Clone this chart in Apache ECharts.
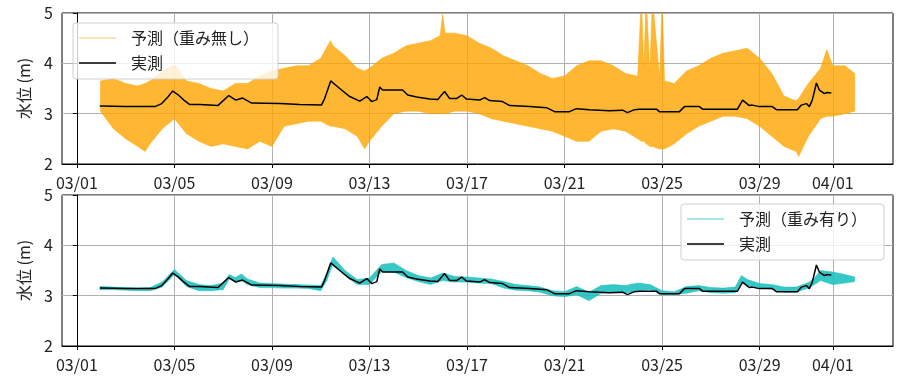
<!DOCTYPE html>
<html><head><meta charset="utf-8">
<script src="https://cdn.jsdelivr.net/npm/echarts@6/dist/echarts.min.js"></script>
<style>html,body{margin:0;padding:0;background:#fff}#c{width:899px;height:378px}</style>
</head><body><div id="c"></div>
<script>
// x values are days since 03/01 00:00
const tickDays = [0, 4, 8, 12, 16, 20, 24, 28, 31];
const tickLabels = ['03/01', '03/05', '03/09', '03/13', '03/17', '03/21', '03/25', '03/29', '04/01'];
const yTicks = [2, 3, 4, 5];

const actualDays = [0.94,2.0,3.2,3.48,3.73,3.93,4.14,4.39,4.63,5.04,5.78,5.98,6.23,6.52,6.8,7.17,8.32,9.14,10.03,10.16,10.41,10.78,11.19,11.6,11.89,12.09,12.3,12.42,12.54,13.36,13.57,13.93,14.47,14.8,15.08,15.29,15.57,15.78,15.98,16.52,16.72,16.93,17.46,17.75,18.57,19.26,19.59,20.2,20.49,21.02,21.84,22.38,22.58,22.87,23.07,23.77,23.89,24.71,24.92,25.53,25.66,27.09,27.3,27.58,27.7,27.99,28.52,28.69,29.55,29.71,29.92,30.04,30.16,30.33,30.45,30.66,30.78,30.94];
const actualLevel = [3.15,3.14,3.14,3.2,3.33,3.45,3.38,3.27,3.18,3.18,3.16,3.25,3.36,3.27,3.31,3.21,3.2,3.18,3.17,3.3,3.65,3.5,3.34,3.25,3.34,3.24,3.28,3.53,3.47,3.47,3.37,3.33,3.29,3.28,3.44,3.3,3.3,3.37,3.29,3.27,3.32,3.26,3.24,3.16,3.14,3.12,3.04,3.04,3.1,3.08,3.06,3.07,3.02,3.08,3.09,3.09,3.04,3.04,3.14,3.14,3.09,3.09,3.27,3.16,3.17,3.14,3.14,3.08,3.08,3.17,3.2,3.14,3.27,3.61,3.47,3.4,3.42,3.41];

// 予測（重み無し） envelope of the forecast traces
const predNwDays = [0.97,1.5,2.0,2.5,2.8,3.0,3.5,4.0,4.5,5.0,5.5,6.0,6.5,7.0,7.5,8.0,8.5,9.0,9.5,10.0,10.4,10.5,11.0,11.5,11.8,12.0,12.5,13.0,13.5,14.0,14.5,14.9,15.0,15.1,15.5,16.0,16.5,17.0,17.5,18.0,18.5,19.0,19.5,20.0,20.5,21.0,21.5,22.0,22.5,23.0,23.15,23.25,23.35,23.5,23.6,23.9,24.0,24.1,24.5,25.0,25.5,26.0,26.5,27.0,27.5,28.0,28.5,29.0,29.5,29.6,30.0,30.5,30.75,31.0,31.5,31.9];
const predNwHigh = [3.65,3.7,3.6,3.55,3.6,3.65,3.85,3.97,3.65,3.6,3.5,3.45,3.6,3.6,3.75,3.85,3.9,3.95,3.95,4.1,4.45,4.35,4.15,3.9,3.85,3.9,4.1,4.2,4.35,4.4,4.45,4.55,4.97,4.6,4.6,4.55,4.4,4.3,4.15,4.05,3.95,3.8,3.7,3.75,3.95,4.05,4.05,3.95,3.8,3.75,5.3,3.9,5.3,3.8,5.3,3.7,5.3,3.65,3.6,3.85,3.95,4.1,4.2,4.25,4.3,4.1,3.8,3.35,3.25,3.3,3.6,3.9,4.27,3.95,3.95,3.8];
const predNwLow = [3.05,2.7,2.5,2.35,2.25,2.4,2.7,2.9,2.6,2.45,2.35,2.4,2.35,2.3,2.45,2.35,2.75,2.8,2.85,2.85,2.75,2.75,2.7,2.55,2.3,2.45,2.75,3.0,3.05,3.05,3.0,3.0,3.0,3.0,3.05,3.05,3.0,2.9,2.85,2.8,2.75,2.7,2.65,2.55,2.45,2.45,2.65,2.7,2.65,2.5,2.45,2.45,2.4,2.35,2.35,2.3,2.3,2.3,2.4,2.6,2.75,2.85,2.95,2.95,2.9,2.75,2.55,2.35,2.25,2.15,2.55,2.9,2.95,2.95,3.0,3.05];

// 予測（重み有り） envelope of the forecast traces
const predWDays = [0.95,1.5,2.0,2.5,3.0,3.5,4.0,4.5,5.0,5.5,6.0,6.25,6.5,6.75,7.0,7.5,8.0,8.5,9.0,9.5,10.0,10.25,10.5,11.0,11.5,12.0,12.5,13.0,13.5,14.0,14.5,15.0,15.5,16.0,16.5,17.0,17.5,18.0,18.5,19.0,19.5,20.0,20.5,21.0,21.5,22.0,22.5,23.0,23.5,24.0,24.5,25.0,25.5,26.0,26.5,27.0,27.25,27.5,28.0,28.5,29.0,29.5,30.0,30.25,30.5,31.0,31.5,31.9];
const predWHigh = [3.18,3.17,3.16,3.15,3.16,3.27,3.52,3.3,3.22,3.2,3.25,3.42,3.36,3.43,3.33,3.25,3.24,3.23,3.22,3.21,3.2,3.45,3.77,3.5,3.32,3.35,3.62,3.65,3.5,3.4,3.35,3.45,3.38,3.37,3.35,3.33,3.28,3.22,3.2,3.17,3.1,3.08,3.18,3.07,3.2,3.22,3.2,3.25,3.22,3.1,3.08,3.18,3.2,3.16,3.15,3.17,3.4,3.32,3.24,3.22,3.17,3.17,3.26,3.35,3.5,3.47,3.42,3.37];
const predWLow = [3.12,3.12,3.11,3.1,3.1,3.17,3.42,3.18,3.1,3.1,3.12,3.33,3.27,3.3,3.22,3.16,3.16,3.15,3.15,3.14,3.1,3.3,3.63,3.4,3.22,3.22,3.48,3.47,3.36,3.28,3.22,3.3,3.27,3.27,3.25,3.24,3.15,3.11,3.1,3.07,3.0,2.98,3.02,2.9,3.05,3.07,3.05,3.1,3.12,3.02,3.02,3.05,3.1,3.06,3.05,3.06,3.27,3.2,3.15,3.13,3.07,3.07,3.15,3.22,3.3,3.22,3.25,3.28];

const FONT = '"Noto Sans CJK JP", "Noto Sans", sans-serif';
const TXT = '#222';
const ORANGE = '#FFA500';
const CYAN = '#1ABFBF';

function pairs(xs, ys) { return xs.map((x, i) => [x, ys[i]]); }
function labelFor(v) {
  const i = tickDays.findIndex(t => Math.abs(t - v) < 1e-6);
  return i >= 0 ? tickLabels[i] : '';
}

const gridsPx = [{ top: 13, height: 151 }, { top: 195, height: 151 }];

function xAxis(i) {
  return {
    type: 'value', gridIndex: i, min: -0.61, max: 33.47,
    axisLine: { show: true, onZero: false, lineStyle: { color: '#000', width: 1 } },
    axisTick: { show: true, customValues: tickDays, length: 4, lineStyle: { color: '#000' } },
    axisLabel: { customValues: tickDays, formatter: labelFor, fontSize: 16, color: TXT, fontFamily: FONT, margin: 11 },
    splitLine: { show: true, lineStyle: { color: '#b0b0b0', width: 1 } }
  };
}
function yAxis(i) {
  return {
    type: 'value', gridIndex: i, min: 2, max: 5, interval: 1,
    name: '水位 (m)', nameLocation: 'middle', nameGap: 30, nameRotate: 90,
    nameTextStyle: { fontSize: 16, color: TXT, fontFamily: FONT },
    axisLine: { show: true, lineStyle: { color: '#000', width: 1 } },
    axisTick: { show: true, length: 4, lineStyle: { color: '#000' } },
    axisLabel: { fontSize: 16, color: TXT, fontFamily: FONT, margin: 9 },
    splitLine: { show: true, lineStyle: { color: '#b0b0b0', width: 1 } }
  };
}
function band(i, name, days, hi, lo, color, op) {
  return {
    type: 'custom', name: name, xAxisIndex: i, yAxisIndex: i, silent: true, z: 2,
    data: [[days[0], lo[0]]],
    itemStyle: { color: color },
    renderItem: function (params, api) {
      const pts = [];
      for (let k = 0; k < days.length; k++) pts.push(api.coord([days[k], hi[k]]));
      for (let k = days.length - 1; k >= 0; k--) pts.push(api.coord([days[k], lo[k]]));
      const cs = params.coordSys;
      return {
        type: 'group',
        clipPath: { type: 'rect', shape: { x: cs.x, y: cs.y, width: cs.width, height: cs.height } },
        children: [{ type: 'polygon', shape: { points: pts },
          style: { fill: color, opacity: op, stroke: color, lineWidth: 0.6 } }]
      };
    }
  };
}
function actual(i) {
  return { type: 'line', name: '実測', xAxisIndex: i, yAxisIndex: i, symbol: 'none', showSymbol: false,
    data: pairs(actualDays, actualLevel), lineStyle: { color: '#000', width: 1.5 }, itemStyle: { color: '#000' }, z: 5 };
}
const legendCommon = {
  orient: 'vertical', itemWidth: 37, itemHeight: 1.6, itemGap: 9, symbolKeepAspect: false,
  backgroundColor: 'rgba(255,255,255,0.8)', borderColor: '#d0d0d0', borderWidth: 1, borderRadius: 3,
  textStyle: { fontSize: 16, color: TXT, fontFamily: FONT, padding: [0, 0, 0, 10] },
  selectedMode: false
};

const option = {
  animation: false,
  backgroundColor: '#fff',
  grid: gridsPx.map(g => ({ left: 62, right: 6, top: g.top, height: g.height, show: true, borderColor: '#000', borderWidth: 1, backgroundColor: 'transparent' })),
  xAxis: [xAxis(0), xAxis(1)],
  yAxis: [yAxis(0), yAxis(1)],
  legend: [
    Object.assign({}, legendCommon, { left: 73, top: 23, padding: [7, 19, 8, 6],
      data: [
        { name: '予測（重み無し）', icon: 'rect', itemStyle: { color: 'rgba(255,165,0,0.4)', opacity: 1 } },
        { name: '実測', icon: 'rect', itemStyle: { color: '#000', opacity: 1 } }
      ] }),
    Object.assign({}, legendCommon, { right: 15, top: 204, padding: [7, 17, 8, 6],
      data: [
        { name: '予測（重み有り）', icon: 'rect', itemStyle: { color: 'rgba(26,191,191,0.5)', opacity: 1 } },
        { name: '実測', icon: 'rect', itemStyle: { color: '#000', opacity: 1 } }
      ] })
  ],
  series: [
    band(0, '予測（重み無し）', predNwDays, predNwHigh, predNwLow, ORANGE, 0.8),
    actual(0),
    band(1, '予測（重み有り）', predWDays, predWHigh, predWLow, CYAN, 0.88),
    actual(1)
  ]
};
const chart = echarts.init(document.getElementById('c'), null, { renderer: 'canvas' });
chart.setOption(option);
</script></body></html>
